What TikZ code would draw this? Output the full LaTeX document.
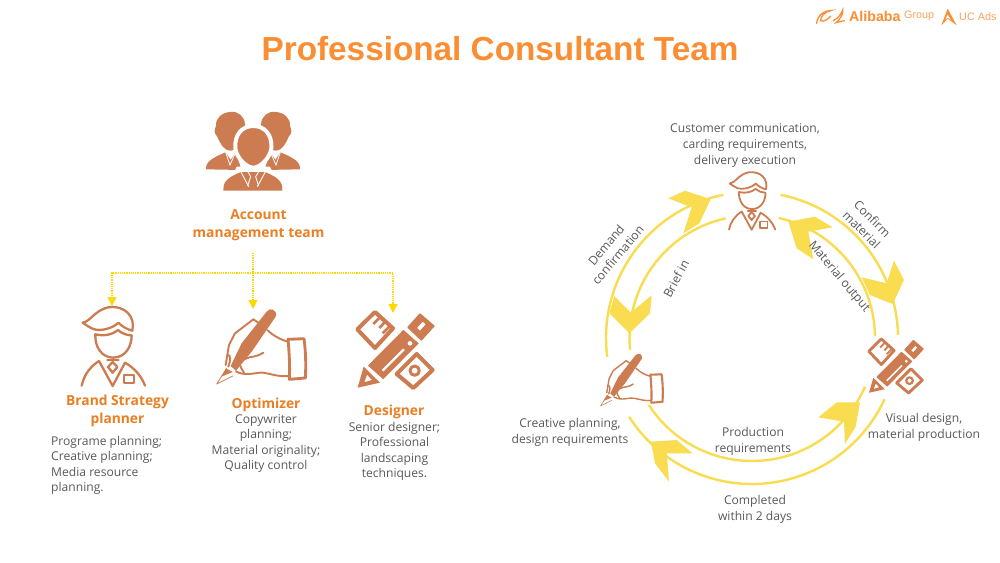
\documentclass[tikz,border=0pt]{standalone}
\usepackage{fontspec}
\setmainfont{Open Sans}
\newfontfamily\arialf{Liberation Sans}
\usetikzlibrary{arrows.meta}
\definecolor{icon}{HTML}{CD7B50}
\definecolor{headc}{HTML}{E97F24}
\definecolor{titlec}{HTML}{FB8D33}
\definecolor{bodyc}{HTML}{595959}
\definecolor{ringc}{HTML}{FADC50}
\definecolor{dotc}{HTML}{FFD800}
\tikzset{
  head/.style={text=headc,font=\fontsize{13.8}{18}\selectfont\bfseries,align=center,inner sep=0pt},
  bodytext/.style={text=bodyc,font=\fontsize{12.1}{15.3}\selectfont,align=center,inner sep=0pt},
  cycletext/.style={text=bodyc,font=\fontsize{12.1}{16.2}\selectfont,align=center,inner sep=0pt},
  ring/.style={draw=ringc,line width=2.4pt},
  chev/.style={fill=ringc,draw=none},
  dotline/.style={draw=dotc,line width=1.2pt,dash pattern=on 1.2pt off 1pt},
  dotarrow/.style={dotline,-{Triangle[length=9pt,width=9pt,fill=dotc,sep=0pt]}}
}
\newcommand{\personicon}[4]{\begin{scope}[shift={(#1,#2)},scale=#3,line width=#4,draw=icon,line join=round,line cap=round]
\draw (38,68) .. controls (60,66) and (75,30) .. (115,22) .. controls (165,15) and (197,50) .. (187,92) .. controls (170,88) and (155,78) .. (145,68) .. controls (130,85) and (90,95) .. (70,87) .. controls (58,82) and (48,75) .. (38,68) -- cycle;
\draw (76,103) .. controls (105,110) and (130,102) .. (144,90) .. controls (155,100) and (170,106) .. (185,106) .. controls (185,135) and (170,172) .. (130,173) .. controls (95,173) and (74,140) .. (76,103) -- cycle;
\draw (35,257) .. controls (42,225) and (60,200) .. (87,183) -- (128,258) -- (165,188) .. controls (195,205) and (215,230) .. (225,257);
\draw (128,186) -- (142,201) -- (128,218) -- (114,201) -- cycle;
\draw (112,180) -- (146,180);
\draw (161,224) rectangle (193,250);
\end{scope}}
\newcommand{\handicon}[4]{\begin{scope}[shift={(#1,#2)},scale=#3,line width=#4,draw=icon,line join=round,line cap=round]
\fill[icon] (170,35) .. controls (180,20) and (204,30) .. (197,50) -- (125,155) -- (78,212) -- (62,198) -- (95,130) -- cycle;
\draw[line width=.4*#4] (50,205) -- (20,252) -- (68,228);
\fill[icon] (48,205) -- (34,230) -- (68,216) -- cycle;
\draw (130,58) -- (75,100) -- (57,135) -- (47,195);
\draw (130,58) -- (145,68);
\draw (172,90) .. controls (190,108) and (215,120) .. (234,125);
\draw (236,228) .. controls (200,232) and (170,216) .. (150,218) .. controls (130,220) and (100,228) .. (78,214);
\draw (78,195) .. controls (85,175) and (105,180) .. (118,172) .. controls (135,170) and (150,165) .. (160,158);
\draw (88,190) .. controls (92,200) and (95,210) .. (102,218);
\draw (52,165) .. controls (65,160) and (60,190) .. (55,200);
\draw[line width=1.5*#4] (234,118) -- (282,116) .. controls (288,160) and (288,200) .. (286,234) -- (238,238) .. controls (240,200) and (238,160) .. (234,118) -- cycle;
\end{scope}}
\newcommand{\toolsicon}[3]{\begin{scope}[shift={(#1,#2)},scale=#3,line join=round]
\draw[icon,line width=#3*12] (442,88) -- (495,36) -- (549,85) -- (495,144) -- cycle;
\draw[icon,line width=#3*8] (510,52) -- (490,72) (525,66) -- (508,84) (538,80) -- (518,100);
\draw[icon,line width=#3*12] (620,162) -- (668,210) -- (610,264) -- (560,222) -- cycle;
\draw[icon,line width=#3*9] (614,212) circle[radius=14];
\fill[icon,draw=white,line width=#3*7] (468,197) -- (580,84) -- (632,130) -- (520,243) -- cycle;
\draw[white,line width=#3*7] (518,212) -- (582,148);
\fill[white] (600,130) circle[radius=7];
\fill[white] (590,80) -- (630,36) -- (678,78) -- (636,124) -- cycle;
\fill[icon,draw=icon,line width=#3*4,even odd rule] (594,82) -- (630,42) -- (672,78) -- (634,120) -- cycle (618,84) -- (638,62) -- (650,73) -- (630,95) -- cycle;
\fill[icon,even odd rule] (461,200) -- (510,248) -- (443,263) -- cycle (471,224) -- (463,247) -- (486,240) -- cycle;
\end{scope}}
\newcommand{\teamside}{
\fill[icon] (510,36) .. controls (535,32) and (553,50) .. (555,72) .. controls (558,105) and (540,150) .. (512,152) .. controls (490,152) and (478,125) .. (472,110) .. controls (462,100) and (462,90) .. (468,78) .. controls (466,55) and (485,38) .. (510,36) -- cycle;
\fill[icon] (438,208) .. controls (436,185) and (460,172) .. (497,157) -- (512,180) -- (527,157) -- (545,210) -- cycle;
\draw[white,line width=.8pt] (497,157) -- (510,195) -- (527,157);
}
\newcommand{\teamicon}{\begin{scope}[shift={(60,100)},scale=1/3]
\teamside
\begin{scope}[xshift=1158pt,xscale=-1]\teamside\end{scope}
\fill[icon,draw=white,line width=4pt] (580,78) .. controls (615,78) and (637,105) .. (634,145) .. controls (630,175) and (600,203) .. (580,203) .. controls (560,203) and (530,175) .. (526,145) .. controls (523,105) and (545,78) .. (580,78) -- cycle;
\fill[white] (530,200) -- (630,200) -- (640,222) -- (520,222) -- cycle;
\fill[icon] (490,272) .. controls (489,250) and (495,235) .. (543,216) -- (615,216) .. controls (662,235) and (668,250) .. (667,272) -- cycle;
\draw[white,line width=.9pt] (541,212) -- (566,260) (618,212) -- (592,260);
\draw[white,line width=.9pt] (562,212) -- (572,230) -- (563,258) (598,212) -- (587,230) -- (596,258);
\end{scope}}
\begin{document}
\begin{tikzpicture}[x=1pt,y=1pt,yscale=-1]
\useasboundingbox (0,0) rectangle (1000,562);
\fill[white] (0,0) rectangle (1000,562);

% title
\node[text=titlec,font=\arialf\fontsize{33.3}{36}\selectfont\bfseries,inner sep=0pt] (title) at (500,49) {Professional Consultant Team};

% logo
\begin{scope}[shift={(800,0)},scale=1/3]
\draw[titlec,line width=1.3pt,line cap=round] (50,70) .. controls (52,45) and (75,30) .. (92,32) .. controls (75,35) and (60,50) .. (62,62) .. controls (70,68) and (88,55) .. (92,48);
\draw[titlec,line width=1.3pt,line cap=round] (100,62) .. controls (115,55) and (125,40) .. (128,30) .. controls (132,42) and (118,60) .. (108,68) -- (133,62);
\fill[titlec] (443,26) -- (424,76) -- (443,56) -- (470,76) -- cycle;
\fill[white] (443,44) -- (436,58) -- (443,53) -- (452,60) -- cycle;
\end{scope}
\node[text=titlec,font=\arialf\fontsize{14.2}{14}\selectfont\bfseries,anchor=west,inner sep=0pt] (alibaba) at (849,16) {Alibaba};
\node[text=titlec!80,font=\arialf\fontsize{10.8}{14}\selectfont,anchor=west,inner sep=0pt] (group) at (904,16) {Group};
\node[text=titlec!80,font=\arialf\fontsize{10.8}{14}\selectfont,anchor=west,inner sep=0pt] (ucads) at (959,16.5) {UC Ads};

% left: team
\teamicon
\node[head] (acct) at (258.5,225.5) {Account\\management team};
\coordinate (stem) at (253,253);
\coordinate (fork) at (253,273);
\coordinate (forkL) at (112,273);
\coordinate (forkR) at (393,273);
\coordinate (tipL) at (112,306);
\coordinate (tipM) at (253,309);
\coordinate (tipR) at (393,313);
\draw[dotarrow] (stem) -- (tipM);
\draw[dotarrow] (fork) -- (forkL) -- (tipL);
\draw[dotarrow] (fork) -- (forkR) -- (tipR);

\personicon{70}{300}{0.3333}{2.3pt}
\handicon{210}{300}{0.3333}{1.9pt}
\toolsicon{210}{300}{0.3333}

\node[head] (brand) at (117.5,411) {Brand Strategy\\planner};
\node[bodytext,align=left,anchor=north west] (brandt) at (51,436) {Programe planning;\\Creative planning;\\Media resource\\planning.};
\node[head] (opt) at (266,404.5) {Optimizer};
\node[bodytext,anchor=north] (optt) at (266,414.5) {Copywriter\\planning;\\Material originality;\\Quality control};
\node[head] (des) at (394,412) {Designer};
\node[bodytext,anchor=north] (dest) at (394.5,422) {Senior designer;\\Professional\\landscaping\\techniques.};

% right: cycle
\coordinate (C) at (752,338);
\draw[ring] (C) ++(172.6:146) arc[start angle=172.6,end angle=258.7,radius=146];
\draw[ring] (C) ++(257.6:122.5) arc[start angle=257.6,end angle=174.5,radius=122.5];
\draw[ring] (C) ++(-78.7:146) arc[start angle=-78.7,end angle=-1.2,radius=146];
\draw[ring] (C) ++(-0.9:123) arc[start angle=-0.9,end angle=-77.5,radius=123];
\draw[ring] (C) ++(147.1:123) arc[start angle=147.1,end angle=23.3,radius=123];
\draw[ring] (C) ++(24.8:146) arc[start angle=24.8,end angle=147.3,radius=146];
\begin{scope}[shift={(570,170)},scale=1/3]
\fill[chev] (422,88) -- (345,62) -- (295,85) -- (365,112) -- (340,190) -- (388,160) -- cycle;
\fill[chev] (178,490) -- (118,430) -- (133,378) -- (182,428) -- (245,376) -- (240,430) -- cycle;
\fill[chev] (968,402) -- (1002,330) -- (972,272) -- (950,340) -- (875,322) -- (900,375) -- cycle;
\fill[chev] (655,155) -- (735,140) -- (788,172) -- (715,185) -- (730,268) -- (680,235) -- cycle;
\fill[chev] (870,697) -- (800,697) -- (745,742) -- (822,755) -- (825,822) -- (857,770) -- cycle;
\fill[chev] (243,815) -- (320,810) -- (368,850) -- (290,850) -- (297,935) -- (255,880) -- cycle;
\end{scope}

\personicon{720.5}{167}{0.2433}{1.8pt}
\handicon{595.8}{347.2}{0.2333}{1.4pt}
\toolsicon{764}{330.4}{0.237}

\node[cycletext] (cust) at (745,145.5) {Customer communication,\\carding requirements,\\delivery execution};
\node[cycletext] (creat) at (570,432) {Creative planning,\\design requirements};
\node[cycletext] (vis) at (924,427) {Visual design,\\material production};
\node[cycletext] (prod) at (753,441) {Production\\requirements};
\node[cycletext] (comp) at (755,509) {Completed\\within 2 days};
\node[bodytext,rotate=50] (dem) at (612,250) {Demand\\confirmation};
\node[bodytext,rotate=62] (brief) at (676,279) {Brief in};
\node[bodytext,rotate=-45] (conf) at (867,224) {Confirm\\material};
\node[bodytext,rotate=-50] (mat) at (839,277) {Material output};
\end{tikzpicture}
\end{document}
